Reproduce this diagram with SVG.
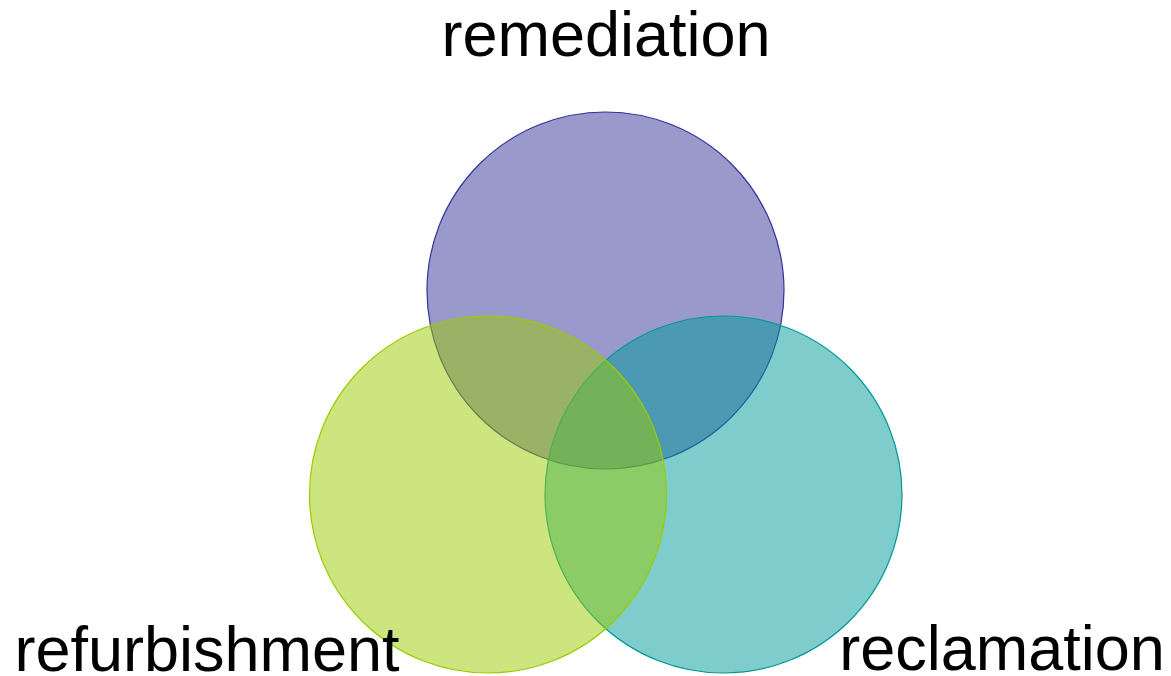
<svg xmlns="http://www.w3.org/2000/svg" width="1171" height="676" viewBox="0 0 1171 676">
  <style>
    .set { stroke-width: 1.2; fill-opacity: 0.5; }
    .label { font-family: "Liberation Sans", Arial, sans-serif; font-size: 63px; fill: #000; text-anchor: middle; }
  </style>
  <rect width="1171" height="676" fill="#fff"/>
  <g id="remediation">
    <circle class="set" cx="605.5" cy="290.5" r="178.5" fill="#333399" stroke="#333399"/>
    <text class="label" x="606" y="56">remediation</text>
  </g>
  <g id="reclamation">
    <circle class="set" cx="723.5" cy="494.5" r="178.5" fill="#009999" stroke="#009999"/>
    <text class="label" x="1002" y="670">reclamation</text>
  </g>
  <g id="refurbishment">
    <circle class="set" cx="488" cy="494.5" r="178.5" fill="#99cc00" stroke="#99cc00"/>
    <text class="label" x="207" y="671">refurbishment</text>
  </g>
  <g id="connectors"/>
</svg>
